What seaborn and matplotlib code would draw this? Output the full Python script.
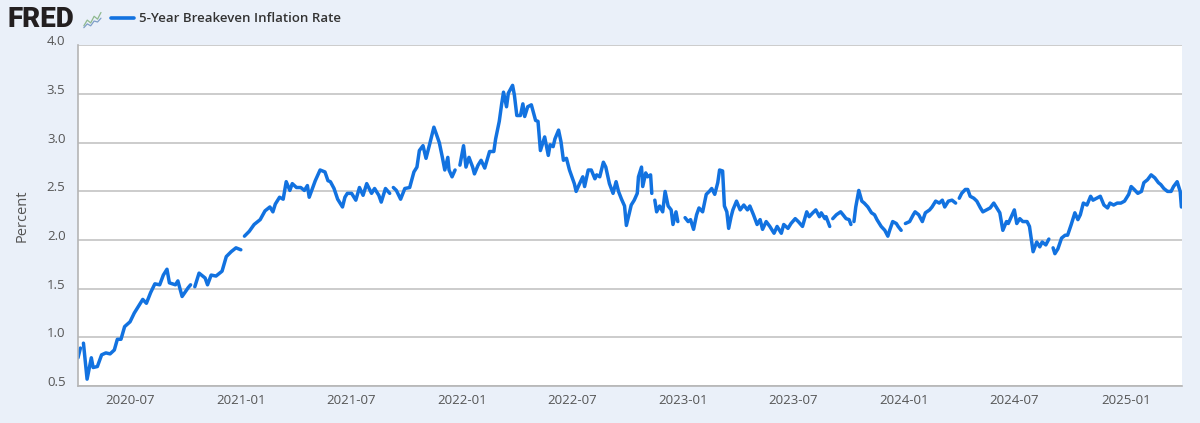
import numpy as np
import pandas as pd
import matplotlib
matplotlib.use("Agg")
import matplotlib.pyplot as plt
import matplotlib.dates as mdates
import matplotlib.transforms as mtrans
import seaborn as sns

# 5-Year Breakeven Inflation Rate (T5YIE)
# None marks a missing day (FRED leaves a gap in the line there)
dates = [
    "2020-04-06", "2020-04-10", "2020-04-12", "2020-04-15", "2020-04-21", "2020-04-28",
    "2020-05-01", "2020-05-08", "2020-05-15", "2020-05-22", "2020-05-29", "2020-06-05",
    "2020-06-10", "2020-06-16", "2020-06-22", "2020-07-01", "2020-07-08", "2020-07-17",
    "2020-07-22", "2020-07-28", "2020-08-04", "2020-08-11", "2020-08-19", "2020-08-25",
    "2020-08-31", "2020-09-04", "2020-09-14", "2020-09-18", "2020-09-25", "2020-10-05",
    "2020-10-09", "2020-10-12", "2020-10-16", "2020-10-23", "2020-11-02", "2020-11-06",
    "2020-11-12", "2020-11-20", "2020-11-30", "2020-12-07", "2020-12-15", "2020-12-23",
    "2020-12-31", "2021-01-01", "2021-01-06", "2021-01-14", "2021-01-22", "2021-02-01",
    "2021-02-09", "2021-02-17", "2021-02-22", "2021-02-26", "2021-03-05", "2021-03-11",
    "2021-03-16", "2021-03-22", "2021-03-26", "2021-04-02", "2021-04-09", "2021-04-15",
    "2021-04-20", "2021-04-23", "2021-05-03", "2021-05-11", "2021-05-19", "2021-05-24",
    "2021-05-28", "2021-06-03", "2021-06-09", "2021-06-17", "2021-06-21", "2021-06-25",
    "2021-07-02", "2021-07-09", "2021-07-15", "2021-07-21", "2021-07-27", "2021-08-04",
    "2021-08-09", "2021-08-16", "2021-08-20", "2021-08-27", "2021-09-03", "2021-09-06",
    "2021-09-09", "2021-09-14", "2021-09-21", "2021-09-28", "2021-10-06", "2021-10-13",
    "2021-10-18", "2021-10-22", "2021-10-28", "2021-11-02", "2021-11-09", "2021-11-15",
    "2021-11-19", "2021-11-24", "2021-11-29", "2021-12-03", "2021-12-08", "2021-12-10",
    "2021-12-15", "2021-12-20", "2021-12-24", "2021-12-28", "2022-01-03", "2022-01-07",
    "2022-01-12", "2022-01-18", "2022-01-21", "2022-01-27", "2022-02-01", "2022-02-07",
    "2022-02-15", "2022-02-22", "2022-02-25", "2022-03-03", "2022-03-07", "2022-03-10",
    "2022-03-15", "2022-03-18", "2022-03-25", "2022-03-28", "2022-04-01", "2022-04-07",
    "2022-04-11", "2022-04-14", "2022-04-19", "2022-04-25", "2022-05-02", "2022-05-06",
    "2022-05-10", "2022-05-17", "2022-05-23", "2022-05-26", "2022-05-31", "2022-06-03",
    "2022-06-09", "2022-06-13", "2022-06-17", "2022-06-22", "2022-06-27", "2022-07-05",
    "2022-07-08", "2022-07-13", "2022-07-19", "2022-07-22", "2022-07-28", "2022-08-02",
    "2022-08-08", "2022-08-11", "2022-08-16", "2022-08-22", "2022-08-26", "2022-09-01",
    "2022-09-07", "2022-09-12", "2022-09-16", "2022-09-21", "2022-09-26", "2022-09-29",
    "2022-10-04", "2022-10-07", "2022-10-12", "2022-10-17", "2022-10-19", "2022-10-24",
    "2022-10-26", "2022-10-31", "2022-11-03", "2022-11-08", "2022-11-10", "2022-11-11",
    "2022-11-15", "2022-11-18", "2022-11-23", "2022-11-28", "2022-12-02", "2022-12-07",
    "2022-12-12", "2022-12-15", "2022-12-20", "2022-12-23", "2022-12-26", "2022-12-29",
    "2023-01-02", "2023-01-04", "2023-01-09", "2023-01-13", "2023-01-18", "2023-01-23",
    "2023-01-27", "2023-02-02", "2023-02-08", "2023-02-13", "2023-02-17", "2023-02-22",
    "2023-02-27", "2023-03-02", "2023-03-07", "2023-03-10", "2023-03-14", "2023-03-17",
    "2023-03-21", "2023-03-24", "2023-03-30", "2023-04-05", "2023-04-11", "2023-04-17",
    "2023-04-21", "2023-04-27", "2023-05-03", "2023-05-08", "2023-05-12", "2023-05-18",
    "2023-05-24", "2023-05-31", "2023-06-05", "2023-06-12", "2023-06-16", "2023-06-23",
    "2023-06-28", "2023-07-05", "2023-07-10", "2023-07-17", "2023-07-24", "2023-07-28",
    "2023-08-03", "2023-08-08", "2023-08-14", "2023-08-17", "2023-08-23", "2023-08-25",
    "2023-08-31", "2023-09-04", "2023-09-05", "2023-09-11", "2023-09-18", "2023-09-22",
    "2023-09-27", "2023-10-02", "2023-10-05", "2023-10-09", "2023-10-10", "2023-10-13",
    "2023-10-18", "2023-10-23", "2023-10-27", "2023-11-02", "2023-11-08", "2023-11-13",
    "2023-11-17", "2023-11-24", "2023-11-30", "2023-12-05", "2023-12-08", "2023-12-13",
    "2023-12-19", "2023-12-22", "2023-12-27", "2024-01-01", "2024-01-03", "2024-01-10",
    "2024-01-16", "2024-01-19", "2024-01-25", "2024-01-31", "2024-02-05", "2024-02-12",
    "2024-02-16", "2024-02-22", "2024-02-28", "2024-03-04", "2024-03-08", "2024-03-14",
    "2024-03-20", "2024-03-26", "2024-03-29", "2024-04-01", "2024-04-05", "2024-04-11",
    "2024-04-15", "2024-04-19", "2024-04-25", "2024-04-30", "2024-05-06", "2024-05-10",
    "2024-05-16", "2024-05-22", "2024-05-28", "2024-06-03", "2024-06-07", "2024-06-12",
    "2024-06-18", "2024-06-21", "2024-06-26", "2024-07-01", "2024-07-05", "2024-07-10",
    "2024-07-15", "2024-07-22", "2024-07-26", "2024-08-01", "2024-08-07", "2024-08-12",
    "2024-08-16", "2024-08-22", "2024-08-27", "2024-08-30", "2024-09-03", "2024-09-06",
    "2024-09-11", "2024-09-17", "2024-09-23", "2024-09-27", "2024-10-03", "2024-10-09",
    "2024-10-14", "2024-10-18", "2024-10-23", "2024-10-29", "2024-11-04", "2024-11-08",
    "2024-11-14", "2024-11-20", "2024-11-26", "2024-12-02", "2024-12-06", "2024-12-12",
    "2024-12-18", "2024-12-24", "2024-12-30", "2025-01-06", "2025-01-10", "2025-01-15",
    "2025-01-21", "2025-01-27", "2025-01-31", "2025-02-06", "2025-02-12", "2025-02-18",
    "2025-02-24", "2025-02-28", "2025-03-05", "2025-03-11", "2025-03-17", "2025-03-21",
    "2025-03-27", "2025-04-01", "2025-04-03",
]
rates = [
    0.79, 0.89, None, 0.94, 0.57, 0.79,
    0.69, 0.70, 0.82, 0.84, 0.83, 0.87,
    0.98, 0.98, 1.11, 1.16, 1.25, 1.34,
    1.39, 1.35, 1.46, 1.55, 1.54, 1.64,
    1.70, 1.56, 1.54, 1.58, 1.42, 1.51,
    1.54, None, 1.52, 1.66, 1.61, 1.54,
    1.64, 1.63, 1.68, 1.83, 1.88, 1.92,
    1.90, None, 2.04, 2.09, 2.16, 2.21,
    2.30, 2.34, 2.29, 2.37, 2.44, 2.42,
    2.60, 2.51, 2.58, 2.54, 2.54, 2.51,
    2.56, 2.44, 2.61, 2.72, 2.70, 2.61,
    2.60, 2.53, 2.42, 2.34, 2.44, 2.48,
    2.48, 2.41, 2.54, 2.46, 2.58, 2.48,
    2.53, 2.46, 2.39, 2.53, 2.48, None,
    2.54, 2.51, 2.42, 2.53, 2.54, 2.70,
    2.75, 2.92, 2.97, 2.84, 3.01, 3.16,
    3.09, 3.00, 2.85, 2.72, 2.85, 2.72,
    2.65, 2.72, None, 2.77, 2.97, 2.75,
    2.85, 2.75, 2.68, 2.77, 2.82, 2.74,
    2.91, 2.91, 3.04, 3.22, 3.40, 3.52,
    3.37, 3.51, 3.59, 3.49, 3.28, 3.28,
    3.40, 3.27, 3.37, 3.39, 3.23, 3.22,
    2.92, 3.06, 2.87, 2.98, 2.96, 3.04,
    3.13, 3.01, 2.82, 2.84, 2.72, 2.58,
    2.50, 2.57, 2.65, 2.55, 2.72, 2.72,
    2.63, 2.67, 2.65, 2.80, 2.75, 2.58,
    2.48, 2.60, 2.50, 2.42, 2.35, 2.15,
    2.28, 2.36, 2.41, 2.48, 2.65, 2.75,
    2.55, 2.69, 2.65, 2.67, 2.48, None,
    2.41, 2.29, 2.35, 2.29, 2.50, 2.35,
    2.31, 2.16, 2.29, 2.19, None, 2.33,
    None, 2.23, 2.19, 2.21, 2.11, 2.26,
    2.33, 2.29, 2.47, 2.50, 2.53, 2.47,
    2.59, 2.72, 2.71, 2.35, 2.29, 2.12,
    2.24, 2.31, 2.40, 2.31, 2.36, 2.31,
    2.35, 2.26, 2.16, 2.21, 2.11, 2.19,
    2.14, 2.07, 2.14, 2.07, 2.16, 2.12,
    2.17, 2.22, 2.19, 2.14, 2.29, 2.24,
    2.28, 2.31, 2.24, 2.28, 2.22, 2.24,
    2.14, None, 2.22, 2.26, 2.29, 2.26,
    2.22, 2.21, 2.16, None, 2.19, 2.34,
    2.51, 2.40, 2.38, 2.34, 2.28, 2.26,
    2.21, 2.14, 2.10, 2.04, 2.10, 2.19,
    2.17, 2.14, 2.10, None, 2.17, 2.19,
    2.26, 2.29, 2.26, 2.19, 2.28, 2.31,
    2.34, 2.40, 2.38, 2.41, 2.34, 2.40,
    2.41, 2.38, None, 2.43, 2.48, 2.52,
    2.52, 2.45, 2.43, 2.40, 2.33, 2.29,
    2.31, 2.33, 2.38, 2.32, 2.28, 2.10,
    2.19, 2.17, 2.24, 2.31, 2.17, 2.22,
    2.19, 2.19, 2.14, 1.88, 1.98, 1.93,
    1.98, 1.95, 2.01, None, 1.92, 1.86,
    1.91, 2.02, 2.05, 2.05, 2.16, 2.28,
    2.21, 2.26, 2.38, 2.36, 2.45, 2.41,
    2.43, 2.45, 2.36, 2.33, 2.38, 2.36,
    2.38, 2.38, 2.40, 2.47, 2.55, 2.52,
    2.48, 2.50, 2.59, 2.62, 2.67, 2.64,
    2.59, 2.57, 2.53, 2.50, 2.50, 2.55,
    2.60, 2.50, 2.34,
]

y_ticks = [0.5, 1.0, 1.5, 2.0, 2.5, 3.0, 3.5, 4.0]
x_ticks = ["2020-07", "2021-01", "2021-07", "2022-01", "2022-07",
           "2023-01", "2023-07", "2024-01", "2024-07", "2025-01"]
x_start, x_end = "2020-04-06", "2025-04-04"
series_name = "5-Year Breakeven Inflation Rate"

# tiny FRED logo sparkline
icon_a = [0.2, 0.5, 0.35, 0.7, 0.55, 0.9]
icon_b = [0.1, 0.3, 0.2, 0.45, 0.4, 0.6]

df = pd.DataFrame({"date": pd.to_datetime(dates), "rate": rates})
df["rate"] = df["rate"].astype(float)
df["seg"] = df["rate"].isna().cumsum()
df = df.dropna()

bg = "#eaf0f9"
blue = "#1272e0"
grid_c = "#c8c8c8"
txt_c = "#555555"

sns.set_style("white")
plt.rcParams["font.family"] = ["Open Sans", "DejaVu Sans"]

fig = plt.figure(figsize=(12, 4.23), dpi=100, facecolor=bg)
ax = fig.add_axes([0.065, 0.0875, 0.92, 0.805])
ax.set_facecolor("white")

sns.lineplot(data=df, x="date", y="rate", units="seg", estimator=None,
             color=blue, lw=2.5, ax=ax, legend=False)

ax.set_xlim(pd.Timestamp(x_start), pd.Timestamp(x_end))
ax.set_ylim(0.5, 4.0)
ax.set_yticks(y_ticks)
ax.set_yticklabels([f"{v:.1f}" for v in y_ticks])
ax.set_xticks(pd.to_datetime(x_ticks))
ax.xaxis.set_major_formatter(mdates.DateFormatter("%Y-%m"))
ax.grid(axis="y", color=grid_c, lw=1.3)
ax.grid(axis="x", visible=False)

for s in ["top", "right"]:
    ax.spines[s].set_visible(False)
for s in ["left", "bottom"]:
    ax.spines[s].set_color("#b5b5b5")
    ax.spines[s].set_linewidth(1.2)

ax.tick_params(axis="x", direction="out", length=7, width=0.8, color="#d8dde5",
               pad=-1.5, labelsize=9.5, labelcolor=txt_c)
ax.tick_params(axis="y", length=0, pad=9, labelsize=9.5, labelcolor=txt_c)

# FRED puts y labels slightly above their grid line
shift = mtrans.ScaledTranslation(0, 5 / 100, fig.dpi_scale_trans)
for lab in ax.get_yticklabels():
    lab.set_transform(lab.get_transform() + shift)

ax.set_xlabel("")
ax.set_ylabel("Percent", fontsize=10.5, color=txt_c, labelpad=12)

# header: FRED logo + legend
fig.text(0.006, 0.955, "FRED", fontsize=20, fontweight="heavy", color="#231f20",
         va="center", ha="left", family=["Roboto", "DejaVu Sans"])
icon = fig.add_axes([0.069, 0.93, 0.016, 0.045])
icon.plot(range(len(icon_a)), icon_a, color="#8fb98f", lw=0.9)
icon.plot(range(len(icon_b)), icon_b, color="#7f9fc8", lw=0.9)
icon.set_xlim(-0.3, len(icon_a) - 0.7)
icon.set_ylim(0, 1)
icon.axis("off")

fig.add_artist(plt.Line2D([0.0925, 0.112], [0.957, 0.957], color=blue, lw=2.6,
                          transform=fig.transFigure))
fig.text(0.116, 0.957, series_name, fontsize=9.5, fontweight="semibold", color="#333333",
         va="center", ha="left")

fig.savefig("out.png", dpi=100, facecolor=bg)
